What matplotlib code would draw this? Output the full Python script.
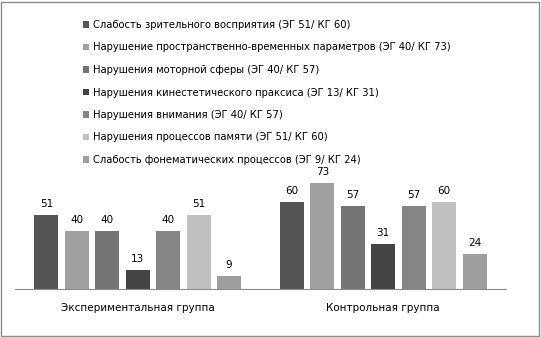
import matplotlib.pyplot as plt
import numpy as np
from matplotlib.patches import Rectangle

groups = ["Экспериментальная группа", "Контрольная группа"]
series = [
    "Слабость зрительного восприятия (ЭГ 51/ КГ 60)",
    "Нарушение пространственно-временных параметров (ЭГ 40/ КГ 73)",
    "Нарушения моторной сферы (ЭГ 40/ КГ 57)",
    "Нарушения кинестетического праксиса (ЭГ 13/ КГ 31)",
    "Нарушения внимания (ЭГ 40/ КГ 57)",
    "Нарушения процессов памяти (ЭГ 51/ КГ 60)",
    "Слабость фонематических процессов (ЭГ 9/ КГ 24)",
]
exp_vals = [51, 40, 40, 13, 40, 51, 9]
ctrl_vals = [60, 73, 57, 31, 57, 60, 24]
colors = ["#555555", "#a0a0a0", "#747474", "#444444", "#858585", "#c0c0c0", "#9e9e9e"]

W, H = 541, 337
fig = plt.figure(figsize=(W / 100, H / 100), dpi=100)
fig.patches.append(Rectangle((1 / W, 1 / H), 1 - 3 / W, 1 - 3 / H, transform=fig.transFigure,
                             fill=False, edgecolor="#8c8c8c", linewidth=1))

# axes: x 15..506 px, baseline at y=289 px, top at 170 px
ax = fig.add_axes([15 / W, (H - 289) / H, 491 / W, 119 / H])
ymax = 119 / 1.45
ax.set_ylim(0, ymax)
ax.set_xlim(-0.5, 1.5)

x = np.arange(len(groups))
step = 0.124
width = 0.098
for i in range(len(series)):
    vals = [exp_vals[i], ctrl_vals[i]]
    pos = x + (i - 3) * step
    ax.bar(pos, vals, width, color=colors[i], label=series[i])
    for p, v in zip(pos, vals):
        ax.text(p, v + 4.3, str(v), ha="center", va="bottom", fontsize=7.5, color="black")

for s in ["top", "right", "left"]:
    ax.spines[s].set_visible(False)
ax.spines["bottom"].set_color("#8c8c8c")
ax.set_yticks([])
ax.set_xticks(x)
ax.set_xticklabels(groups, fontsize=7.5)
ax.tick_params(axis="x", length=0, pad=10)
ax.patch.set_alpha(0)

# legend
handles, labels = ax.get_legend_handles_labels()
leg = fig.legend(handles, labels, loc="upper left", bbox_to_anchor=(78 / W, 1 - 15 / H),
                 frameon=False, fontsize=7.2, handlelength=0.6, handleheight=0.6,
                 handletextpad=0.4, labelspacing=1.25, borderpad=0)

fig.savefig("out.png", dpi=100)
